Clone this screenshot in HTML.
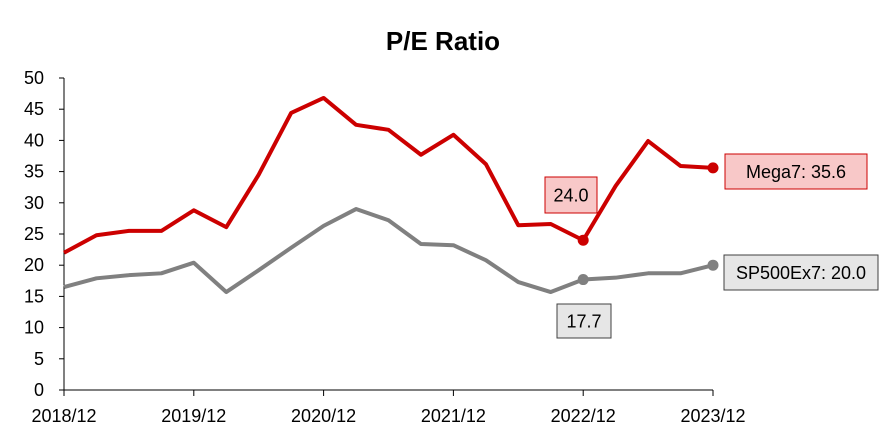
<!DOCTYPE html>
<html><head><meta charset="utf-8"><style>
body{margin:0;background:#fff}
svg{display:block;font-family:"Liberation Sans",Arial,sans-serif}
</style></head><body>
<svg id="chart" width="886" height="443">
<text x="443" y="50" text-anchor="middle" font-size="26" font-weight="bold">P/E Ratio</text>
<g id="axes"></g>
<g id="series"></g>
<g id="labels"></g>
</svg>
<script>
const categories=["2018/12","2019/03","2019/06","2019/09","2019/12","2020/03","2020/06","2020/09","2020/12","2021/03","2021/06","2021/09","2021/12","2022/03","2022/06","2022/09","2022/12","2023/03","2023/06","2023/09","2023/12"];
const mega7=[22.0,24.8,25.5,25.5,28.8,26.1,34.5,44.4,46.8,42.5,41.7,37.7,40.9,36.2,26.4,26.6,24.0,32.7,39.9,35.9,35.6];
const sp500ex7=[16.5,17.9,18.4,18.7,20.4,15.7,19.2,22.8,26.3,29.0,27.2,23.4,23.2,20.8,17.3,15.7,17.7,18.0,18.7,18.7,20.0];
const yTicks=[0,5,10,15,20,25,30,35,40,45,50];
const xTickLabels=["2018/12","2019/12","2020/12","2021/12","2022/12","2023/12"];
const NS="http://www.w3.org/2000/svg";
const x0=64,x1=713,y0=390,y1=78;
const xs=i=>x0+(x1-x0)*i/(categories.length-1);
const ys=v=>y0-(y0-y1)*v/50;
function mk(tag,attrs,parent){const e=document.createElementNS(NS,tag);for(const k in attrs)e.setAttribute(k,attrs[k]);parent.appendChild(e);return e;}
const axes=document.getElementById('axes');
let yl=mk('line',{x1:x0,y1:ys(0),x2:x0,y2:ys(50),stroke:'#000','stroke-width':1},axes);


let xl=mk('line',{x1:x0,y1:y0,x2:x1,y2:y0,stroke:'#000','stroke-width':1},axes);


yTicks.forEach(v=>{
 mk('line',{x1:x0-5,y1:ys(v),x2:x0,y2:ys(v),stroke:'#000'},axes);
 const t=mk('text',{x:44,y:ys(v)+6,'text-anchor':'end','font-size':18},axes);
 t.textContent=v;
 
 
});
xTickLabels.forEach(lab=>{
 const i=categories.indexOf(lab);
 mk('line',{x1:xs(i),y1:y0,x2:xs(i),y2:y0+6,stroke:'#000'},axes);
 const t=mk('text',{x:xs(i),y:422,'text-anchor':'middle','font-size':18},axes);
 t.textContent=lab;
 
 
});
const ser=document.getElementById('series');
function line(vals,color,name){
 const p=mk('polyline',{points:vals.map((v,i)=>xs(i)+','+ys(v)).join(' '),fill:'none',stroke:color,'stroke-width':4,'stroke-linejoin':'round'},ser);
 
 
}
line(sp500ex7,'#808080','sp500ex7');
line(mega7,'#cc0000','mega7');
function dot(vals,i,color,name){
 const c=mk('circle',{cx:xs(i),cy:ys(vals[i]),r:5.5,fill:color},ser);
 
 
}
dot(mega7,16,'#cc0000','mega7-min-point');
dot(mega7,20,'#cc0000','mega7-last-point');
dot(sp500ex7,16,'#808080','sp500ex7-point-2022');
dot(sp500ex7,20,'#808080','sp500ex7-last-point');
const lab=document.getElementById('labels');
function box(x,y,w,h,fill,stroke,text,name){
 const g=mk('g',{},lab);
 
 
 mk('rect',{x:x,y:y,width:w,height:h,fill:fill,stroke:stroke,'stroke-width':1},g);
 const t=mk('text',{x:x+w/2,y:y+h/2+6.5,'text-anchor':'middle','font-size':18},g);
 t.textContent=text;
}
box(545,177,52,36,'#f8c8c8','#cc0000',mega7[16].toFixed(1),'mega7-min-label');
box(725,154,142,35,'#f8c8c8','#cc0000','Mega7: '+mega7[20].toFixed(1),'mega7-last-label');
box(724,255,154,35,'#e6e6e6','#404040','SP500Ex7: '+sp500ex7[20].toFixed(1),'sp500ex7-last-label');
box(557,304,54,34,'#e6e6e6','#404040',sp500ex7[16].toFixed(1),'sp500ex7-2022-label');
</script>
</body></html>
